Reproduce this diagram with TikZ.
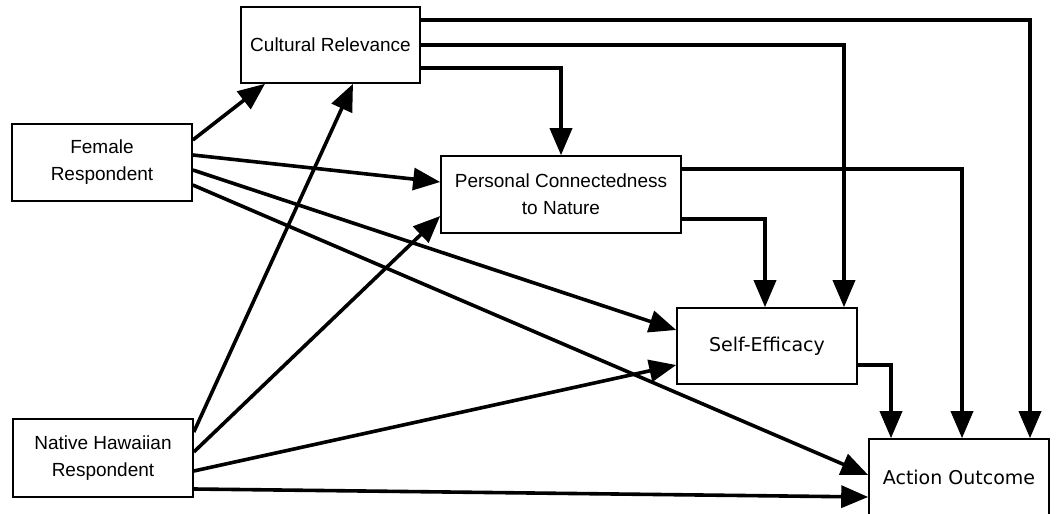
\documentclass[tikz,border=0pt]{standalone}
\usepackage{fontspec}
\setmainfont{Liberation Sans}
\newfontfamily\dejavu{DejaVu Sans}
\usetikzlibrary{arrows.meta}
\tikzset{
  box/.style={draw, line width=1.6pt, inner sep=0pt, align=center, font=\fontsize{19}{27}\selectfont},
  conn/.style={line width=3.6pt, -{Triangle[length=27pt,width=22pt]}},
}
\begin{document}
\begin{tikzpicture}[x=1pt,y=-1pt]
\clip (0,0) rectangle (1058,514);
\fill[white] (0,0) rectangle (1058,514);
\node[box, minimum width=179pt, minimum height=76pt] (CR) at (330.5,45) {Cultural Relevance};
\node[box, minimum width=180pt, minimum height=77pt] (FR) at (102,162.5) {Female\\Respondent};
\node[box, minimum width=240pt, minimum height=77pt] (PC) at (561,194.5) {Personal Connectedness\\to Nature};
\node[box, minimum width=180pt, minimum height=78pt] (NH) at (103,458) {Native Hawaiian\\Respondent};
\node[box, minimum width=180pt, minimum height=76pt, font=\dejavu\fontsize{19}{27}\selectfont] (SE) at (767,346) {Self-Efficacy};
\node[box, minimum width=180pt, minimum height=76pt, font=\dejavu\fontsize{19}{27}\selectfont] (AO) at (959,477) {Action Outcome};
% Female respondent
\draw[conn] ([yshift=22.5pt]FR.east) -- ([xshift=-65.5pt]CR.south);
\draw[conn] ([yshift=7.5pt]FR.east) -- ([yshift=12.5pt]PC.west);
\draw[conn] ([yshift=-7.5pt]FR.east) -- ([yshift=16pt]SE.west);
\draw[conn] ([yshift=-22.5pt]FR.east) -- ([yshift=2pt]AO.west);
% Native Hawaiian respondent
\draw[conn] ([yshift=26pt]NH.east) -- ([xshift=22.5pt]CR.south);
\draw[conn] ([yshift=6pt]NH.east) -- ([yshift=-21.5pt]PC.west);
\draw[conn] ([yshift=-13pt]NH.east) -- ([yshift=-19pt]SE.west);
\draw[conn] ([yshift=-31pt]NH.east) -- ([yshift=-20pt]AO.west);
% orthogonal paths
\draw[conn] ([yshift=25pt]CR.east) -| ([xshift=71pt]AO.north);
\draw[conn] (CR.east) -| ([xshift=77pt]SE.north);
\draw[conn] ([yshift=-23pt]CR.east) -| (PC.north);
\draw[conn] ([yshift=25.5pt]PC.east) -| ([xshift=3pt]AO.north);
\draw[conn] ([yshift=-24.5pt]PC.east) -| ([xshift=-2pt]SE.north);
\draw[conn] ([yshift=-19pt]SE.east) -| ([xshift=-68pt]AO.north);
\end{tikzpicture}
\end{document}
